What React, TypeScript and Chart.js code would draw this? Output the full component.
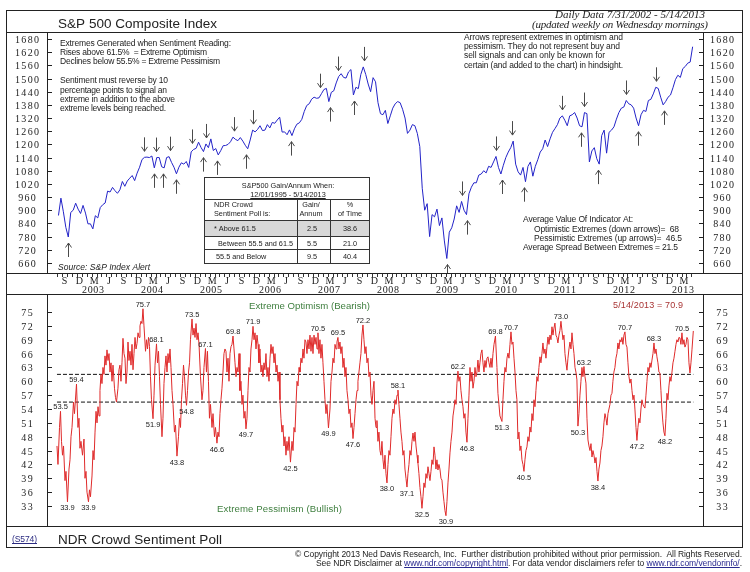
import React, { useEffect, useRef } from "react";
import { Chart, registerables } from "chart.js";

Chart.register(...registerables);

// ---------------------------------------------------------------------------
// S&P 500 Composite: two readings per month (first half, second half).
// 2002 starts in August, 2013 ends in mid May.
// ---------------------------------------------------------------------------
const spx2002 = [876, 955, 893, 822, 778, 890, 900, 932, 905, 885];
const spx2003 = [922, 887, 838, 838, 815, 875, 865, 912, 925, 933, 987, 983, 1004, 989, 977, 993, 1031, 1009, 1033, 1046, 1058, 1035, 1069, 1096];
const spx2004 = [1131, 1141, 1142, 1140, 1147, 1093, 1140, 1140, 1098, 1093, 1140, 1144, 1118, 1096, 1066, 1096, 1116, 1110, 1122, 1095, 1166, 1177, 1182, 1210];
const spx2005 = [1186, 1167, 1202, 1185, 1225, 1172, 1181, 1152, 1171, 1194, 1195, 1200, 1212, 1233, 1223, 1217, 1231, 1215, 1196, 1180, 1220, 1265, 1257, 1268];
const spx2006 = [1285, 1263, 1265, 1290, 1275, 1300, 1296, 1311, 1324, 1256, 1257, 1244, 1266, 1240, 1271, 1292, 1298, 1314, 1350, 1377, 1385, 1406, 1415, 1410];
const spx2007 = [1412, 1431, 1450, 1455, 1395, 1437, 1444, 1480, 1509, 1522, 1505, 1502, 1530, 1541, 1425, 1460, 1454, 1518, 1553, 1519, 1475, 1440, 1504, 1485];
const spx2008 = [1390, 1340, 1335, 1355, 1295, 1330, 1365, 1385, 1395, 1390, 1360, 1320, 1250, 1265, 1290, 1285, 1250, 1190, 1000, 900, 930, 780, 880, 870];
const spx2009 = [905, 830, 865, 760, 680, 800, 820, 860, 920, 890, 940, 900, 880, 975, 1005, 1025, 1025, 1060, 1065, 1080, 1070, 1100, 1095, 1120];
const spx2010 = [1145, 1095, 1065, 1105, 1140, 1165, 1185, 1215, 1110, 1075, 1060, 1095, 1030, 1100, 1120, 1055, 1100, 1130, 1165, 1180, 1220, 1190, 1225, 1255];
const spx2011 = [1272, 1290, 1320, 1330, 1310, 1285, 1330, 1335, 1345, 1320, 1285, 1280, 1345, 1340, 1120, 1170, 1185, 1135, 1110, 1240, 1265, 1160, 1255, 1265];
const spx2012 = [1280, 1315, 1345, 1365, 1370, 1400, 1385, 1380, 1365, 1320, 1285, 1335, 1355, 1350, 1400, 1405, 1430, 1460, 1455, 1415, 1380, 1395, 1415, 1425];
const spx2013 = [1458, 1495, 1515, 1505, 1545, 1555, 1570, 1575, 1645];

// ---------------------------------------------------------------------------
// NDR Crowd Sentiment Poll: [date as decimal year, reading]
// ---------------------------------------------------------------------------
const sent2002 = [
  [2002.579, 46], [2002.596, 42], [2002.622, 50], [2002.639, 53.5], [2002.656, 47], [2002.673, 44], [2002.69, 46],
  [2002.715, 38.5], [2002.732, 40.5], [2002.757, 33.9], [2002.783, 41], [2002.8, 43], [2002.817, 48], [2002.834, 50],
  [2002.859, 55.5], [2002.876, 53], [2002.91, 59.4], [2002.935, 50], [2002.952, 52], [2002.969, 45.5], [2002.986, 47],
];
const sent2003 = [
  [2003.012, 44], [2003.037, 47.5], [2003.054, 39], [2003.071, 40.5], [2003.088, 36], [2003.113, 33.9], [2003.13, 36.5],
  [2003.147, 35], [2003.173, 39.5], [2003.19, 45], [2003.207, 43], [2003.224, 49], [2003.241, 53.5], [2003.258, 51],
  [2003.275, 54.5], [2003.292, 52.5], [2003.308, 58], [2003.325, 61.5], [2003.342, 59.5], [2003.359, 63], [2003.376, 61.5],
  [2003.393, 65.5], [2003.41, 63.5], [2003.427, 66.8], [2003.444, 64.5], [2003.461, 66], [2003.478, 62], [2003.495, 64],
  [2003.512, 60], [2003.529, 63.5], [2003.554, 58.5], [2003.571, 56.5], [2003.588, 55.5], [2003.613, 58.5], [2003.63, 62.5],
  [2003.647, 63.5], [2003.664, 60], [2003.681, 64], [2003.698, 69.3], [2003.715, 66], [2003.732, 65], [2003.749, 59.5],
  [2003.766, 62], [2003.783, 68.5], [2003.8, 64.5], [2003.817, 66.5], [2003.834, 63.5], [2003.851, 68], [2003.868, 62.5],
  [2003.885, 66], [2003.902, 69.5], [2003.919, 67], [2003.936, 68.2], [2003.953, 70.5], [2003.97, 69.5], [2003.986, 72],
];
const sent2004 = [
  [2004.003, 73], [2004.02, 72.5], [2004.037, 75.7], [2004.054, 72], [2004.08, 66.5], [2004.097, 69], [2004.114, 67],
  [2004.131, 69.5], [2004.148, 67.5], [2004.164, 61], [2004.181, 56], [2004.207, 51.9], [2004.224, 57], [2004.241, 63.5],
  [2004.266, 68.1], [2004.283, 64], [2004.3, 66.5], [2004.317, 61], [2004.334, 55], [2004.359, 48], [2004.376, 52],
  [2004.393, 59.5], [2004.41, 63], [2004.427, 65.5], [2004.444, 62], [2004.461, 66], [2004.478, 64], [2004.495, 67],
  [2004.512, 63], [2004.529, 58], [2004.546, 55], [2004.571, 49], [2004.588, 50.5], [2004.613, 43.8], [2004.639, 48],
  [2004.656, 52], [2004.673, 50], [2004.69, 56], [2004.707, 59.5], [2004.724, 63.5], [2004.741, 61], [2004.758, 57],
  [2004.775, 54.8], [2004.792, 58], [2004.809, 62], [2004.826, 64], [2004.842, 69], [2004.868, 73.5], [2004.885, 70],
  [2004.902, 71.5], [2004.919, 69.5], [2004.936, 72.5], [2004.953, 69], [2004.97, 70.5], [2004.987, 68],
];
const sent2005 = [
  [2005.012, 61], [2005.037, 56], [2005.054, 58], [2005.071, 63], [2005.096, 67.1], [2005.113, 62], [2005.13, 66.5],
  [2005.147, 60], [2005.164, 52], [2005.181, 55], [2005.207, 50], [2005.224, 53], [2005.249, 48], [2005.266, 50],
  [2005.291, 46.6], [2005.308, 49], [2005.325, 48], [2005.342, 53], [2005.359, 56], [2005.376, 58.5], [2005.393, 62],
  [2005.41, 66], [2005.427, 67], [2005.444, 66.5], [2005.461, 62], [2005.478, 65], [2005.495, 60], [2005.512, 66],
  [2005.529, 67.5], [2005.546, 68], [2005.563, 69.8], [2005.58, 67], [2005.597, 64], [2005.614, 61], [2005.631, 63],
  [2005.648, 62], [2005.665, 66], [2005.681, 58], [2005.698, 60], [2005.715, 55], [2005.732, 57], [2005.749, 52],
  [2005.766, 53.5], [2005.783, 49.7], [2005.8, 52], [2005.817, 58], [2005.834, 63], [2005.851, 62], [2005.868, 67],
  [2005.885, 69], [2005.902, 71.9], [2005.919, 69], [2005.936, 70.5], [2005.953, 67], [2005.97, 70], [2005.987, 68],
];
const sent2006 = [
  [2006.003, 64], [2006.02, 67], [2006.037, 62], [2006.054, 63.5], [2006.071, 61], [2006.088, 64], [2006.105, 62.5],
  [2006.122, 66], [2006.139, 61], [2006.156, 63], [2006.173, 60], [2006.19, 65], [2006.207, 68], [2006.224, 66],
  [2006.241, 67.5], [2006.258, 64], [2006.275, 66], [2006.292, 62], [2006.309, 63.5], [2006.326, 60], [2006.343, 62],
  [2006.359, 56], [2006.376, 52], [2006.393, 49], [2006.41, 50.5], [2006.427, 46], [2006.444, 48], [2006.461, 44],
  [2006.478, 47], [2006.495, 45], [2006.512, 48], [2006.537, 42.5], [2006.563, 47], [2006.58, 45], [2006.597, 50],
  [2006.614, 49], [2006.631, 55], [2006.648, 60], [2006.665, 59], [2006.682, 63], [2006.698, 62], [2006.715, 65],
  [2006.732, 64], [2006.749, 67], [2006.766, 65], [2006.783, 69], [2006.8, 68.5], [2006.817, 66], [2006.834, 69],
  [2006.851, 67], [2006.868, 70], [2006.885, 66.5], [2006.902, 69.5], [2006.919, 66], [2006.936, 70], [2006.953, 68],
  [2006.97, 69.5], [2006.987, 67],
];
const sent2007 = [
  [2007.003, 70.5], [2007.02, 66], [2007.037, 69], [2007.054, 65], [2007.071, 68], [2007.088, 64], [2007.105, 60],
  [2007.122, 56], [2007.139, 53], [2007.156, 55], [2007.181, 49.9], [2007.207, 54], [2007.224, 60], [2007.241, 62],
  [2007.258, 65], [2007.275, 64], [2007.292, 68], [2007.309, 67], [2007.325, 68.5], [2007.342, 69.5], [2007.359, 67],
  [2007.376, 68.5], [2007.393, 66], [2007.41, 67.5], [2007.427, 63], [2007.444, 65], [2007.461, 61], [2007.478, 63],
  [2007.495, 58], [2007.512, 56], [2007.529, 53], [2007.546, 54], [2007.563, 50], [2007.58, 51], [2007.597, 47.6],
  [2007.614, 50], [2007.631, 53], [2007.648, 56], [2007.665, 58], [2007.681, 60], [2007.698, 62], [2007.715, 64],
  [2007.732, 66], [2007.749, 70], [2007.766, 72.2], [2007.783, 69], [2007.8, 66], [2007.817, 67.5], [2007.834, 64],
  [2007.851, 65], [2007.868, 61], [2007.885, 62], [2007.902, 57], [2007.919, 55], [2007.936, 58], [2007.953, 60],
  [2007.97, 52], [2007.987, 50],
];
const sent2008 = [
  [2008.003, 51.5], [2008.02, 47], [2008.037, 49], [2008.054, 45], [2008.071, 44], [2008.088, 47], [2008.105, 43],
  [2008.122, 41], [2008.139, 44], [2008.156, 40], [2008.173, 38.0], [2008.19, 42], [2008.207, 45], [2008.224, 44],
  [2008.241, 48], [2008.258, 52], [2008.275, 54], [2008.292, 53], [2008.309, 56], [2008.326, 55], [2008.343, 57],
  [2008.359, 58.1], [2008.376, 55], [2008.393, 52], [2008.41, 49], [2008.427, 47], [2008.444, 44], [2008.461, 45],
  [2008.478, 41], [2008.495, 39], [2008.512, 37.1], [2008.529, 40], [2008.546, 42], [2008.563, 45], [2008.58, 44],
  [2008.597, 47], [2008.614, 48.8], [2008.631, 47], [2008.648, 49], [2008.665, 46], [2008.682, 44], [2008.698, 42.3],
  [2008.715, 40], [2008.732, 37], [2008.749, 35], [2008.766, 32.5], [2008.783, 35], [2008.8, 38], [2008.817, 37],
  [2008.834, 40], [2008.851, 39], [2008.868, 41.5], [2008.885, 40], [2008.902, 38.5], [2008.919, 40.5], [2008.936, 43],
  [2008.953, 42], [2008.97, 45.8], [2008.987, 44],
];
const sent2009 = [
  [2009.003, 41], [2009.02, 43], [2009.037, 40.8], [2009.054, 42], [2009.071, 41], [2009.088, 39], [2009.105, 38.6],
  [2009.122, 36], [2009.139, 34], [2009.156, 32], [2009.173, 30.9], [2009.19, 34], [2009.207, 38], [2009.224, 41],
  [2009.241, 44.5], [2009.258, 47], [2009.275, 49], [2009.292, 52.5], [2009.309, 54], [2009.326, 56], [2009.343, 55],
  [2009.359, 59.6], [2009.376, 62.2], [2009.393, 60], [2009.41, 61], [2009.427, 58], [2009.444, 56], [2009.461, 54.5],
  [2009.478, 52], [2009.495, 53], [2009.512, 49], [2009.529, 46.8], [2009.546, 52], [2009.563, 57], [2009.58, 63],
  [2009.597, 60], [2009.614, 62], [2009.631, 58.5], [2009.648, 60], [2009.665, 63], [2009.682, 61], [2009.698, 62],
  [2009.715, 64.6], [2009.732, 62], [2009.749, 64], [2009.766, 66], [2009.783, 66.8], [2009.8, 64], [2009.817, 62],
  [2009.834, 64.5], [2009.851, 63], [2009.868, 65], [2009.885, 65.3], [2009.902, 64], [2009.919, 63], [2009.936, 65],
  [2009.953, 63], [2009.97, 66], [2009.987, 68],
];
const sent2010 = [
  [2010.012, 69.8], [2010.037, 63], [2010.054, 57.4], [2010.071, 55], [2010.088, 52.5], [2010.122, 51.3], [2010.139, 56],
  [2010.156, 60], [2010.173, 63], [2010.19, 62], [2010.207, 65], [2010.224, 66.1], [2010.241, 65], [2010.258, 68],
  [2010.275, 70.7], [2010.292, 68], [2010.309, 68.5], [2010.326, 65], [2010.343, 62], [2010.36, 58], [2010.376, 56],
  [2010.393, 47.5], [2010.41, 49], [2010.427, 45], [2010.444, 46], [2010.461, 43], [2010.478, 42], [2010.495, 40.5],
  [2010.512, 43], [2010.529, 45], [2010.546, 45.8], [2010.563, 48], [2010.58, 47], [2010.597, 50.1], [2010.614, 49],
  [2010.631, 53], [2010.648, 51.5], [2010.665, 56], [2010.682, 54.5], [2010.698, 58], [2010.715, 61], [2010.732, 60],
  [2010.749, 63], [2010.766, 65.3], [2010.783, 64], [2010.8, 66], [2010.817, 68.3], [2010.834, 66], [2010.851, 67],
  [2010.868, 65], [2010.885, 67.5], [2010.902, 69.6], [2010.919, 68], [2010.936, 70], [2010.953, 69], [2010.97, 71.8],
  [2010.987, 70],
];
const sent2011 = [
  [2011.003, 71.5], [2011.02, 72.6], [2011.037, 70], [2011.054, 69.5], [2011.071, 68.3], [2011.088, 70], [2011.105, 71],
  [2011.122, 73.0], [2011.139, 71], [2011.156, 69], [2011.173, 70], [2011.19, 66], [2011.207, 64], [2011.224, 62.4],
  [2011.241, 65], [2011.258, 67], [2011.275, 68.5], [2011.292, 67], [2011.309, 70.5], [2011.326, 68], [2011.343, 66],
  [2011.36, 63], [2011.376, 62], [2011.393, 60.3], [2011.41, 50.3], [2011.427, 53], [2011.444, 57], [2011.461, 60],
  [2011.478, 63], [2011.495, 61], [2011.512, 63.2], [2011.529, 61], [2011.546, 59.6], [2011.563, 52], [2011.58, 47.3],
  [2011.597, 46], [2011.614, 45], [2011.631, 46.5], [2011.648, 43.6], [2011.665, 45], [2011.682, 44], [2011.699, 42.3],
  [2011.716, 43.5], [2011.733, 40.5], [2011.749, 38.4], [2011.766, 41], [2011.783, 42.3], [2011.8, 45], [2011.817, 46],
  [2011.834, 48], [2011.851, 51], [2011.868, 53], [2011.885, 52], [2011.902, 50.5], [2011.919, 53], [2011.936, 54],
  [2011.953, 55], [2011.97, 57], [2011.987, 57.4],
];
const sent2012 = [
  [2012.003, 60], [2012.02, 62], [2012.037, 63], [2012.054, 65], [2012.071, 66], [2012.088, 68.3], [2012.105, 67],
  [2012.122, 69], [2012.139, 68.5], [2012.156, 69.5], [2012.173, 68], [2012.19, 70], [2012.207, 70.7], [2012.224, 68],
  [2012.241, 67.4], [2012.258, 64], [2012.275, 61], [2012.292, 59.6], [2012.309, 60.5], [2012.326, 58], [2012.343, 56],
  [2012.36, 57], [2012.377, 53.8], [2012.394, 50], [2012.41, 47.2], [2012.427, 50], [2012.444, 52], [2012.461, 51],
  [2012.478, 54], [2012.495, 56], [2012.512, 55], [2012.529, 54.5], [2012.546, 54.2], [2012.563, 57], [2012.58, 60],
  [2012.597, 63], [2012.614, 62], [2012.631, 64], [2012.648, 63], [2012.665, 64.6], [2012.682, 66], [2012.699, 68.3],
  [2012.716, 66], [2012.733, 67], [2012.749, 65.3], [2012.766, 64], [2012.783, 62], [2012.8, 61.8], [2012.817, 58],
  [2012.834, 53.8], [2012.851, 51], [2012.868, 49], [2012.885, 48.2], [2012.902, 52], [2012.919, 57.4], [2012.936, 56],
  [2012.953, 59], [2012.97, 61], [2012.987, 60],
];
const sent2013 = [
  [2013.004, 62], [2013.021, 64], [2013.038, 65], [2013.055, 66.5], [2013.072, 68], [2013.088, 69], [2013.105, 68.5],
  [2013.122, 69.5], [2013.139, 69.4], [2013.156, 68], [2013.173, 70.5], [2013.19, 68], [2013.207, 69], [2013.224, 67.4],
  [2013.241, 68], [2013.258, 69.5], [2013.275, 69], [2013.292, 64], [2013.309, 61.8], [2013.326, 64], [2013.343, 66.8],
  [2013.366, 70.9],
];

// Sentiment extremes (arrows on the index, value tags on the poll)
const DOWN_ARROW_DATES = [2004.054, 2004.257, 2004.495, 2004.868, 2005.105, 2005.58, 2005.902, 2007.037, 2007.342, 2007.783, 2009.444, 2010.02, 2010.291, 2011.139, 2011.512, 2012.224, 2012.732];
const UP_ARROW_DATES = [2002.766, 2004.224, 2004.376, 2004.597, 2005.054, 2005.291, 2005.783, 2006.546, 2007.207, 2007.613, 2009.19, 2009.529, 2010.122, 2010.495, 2011.461, 2011.749, 2012.427, 2012.868];
const PEAK_LABEL_DATES = [2002.639, 2002.91, 2004.037, 2004.266, 2004.868, 2005.096, 2005.563, 2005.902, 2007.003, 2007.342, 2007.766, 2008.359, 2009.376, 2010.012, 2010.275, 2011.122, 2011.512, 2012.207, 2012.699, 2013.173];
const TROUGH_LABEL_DATES = [2002.757, 2003.113, 2004.207, 2004.613, 2004.775, 2005.291, 2005.783, 2006.537, 2007.181, 2007.597, 2008.173, 2008.512, 2008.766, 2009.173, 2009.529, 2010.122, 2010.495, 2011.41, 2011.749, 2012.41, 2012.885];

// Axis ticks and threshold bands
const SPX_TICKS = [660, 720, 780, 840, 900, 960, 1020, 1080, 1140, 1200, 1260, 1320, 1380, 1440, 1500, 1560, 1620, 1680];
const SENT_TICKS = [33, 36, 39, 42, 45, 48, 51, 54, 57, 60, 63, 66, 69, 72, 75];
const SENT_BANDS = [61.5, 55.5];
const QUARTER_MONTHS = [2, 5, 8, 11];
const QUARTER_LETTERS = ["M", "J", "S", "D"];
const YEAR_LABELS = [2003, 2004, 2005, 2006, 2007, 2008, 2009, 2010, 2011, 2012, 2013];

// Summary table
const TABLE_ROWS = ["* Above 61.5", "Between 55.5 and 61.5", "55.5 and Below"];
const TABLE_GAIN = [2.5, 5.5, 9.5];
const TABLE_TIME = [38.6, 21.0, 40.4];

const LAST_DATE_TEXT = "5/14/2013";

// ---------------------------------------------------------------------------
const W = 750;
const H = 572;
const X_MIN = 2002.41;
const X_MAX = 2013.53;
const SANS = '"Liberation Sans", Arial, sans-serif';
const SERIF = '"Liberation Serif", "Times New Roman", serif';
const INK = "#222";

const SPX_SERIES = [spx2002, spx2003, spx2004, spx2005, spx2006, spx2007, spx2008, spx2009, spx2010, spx2011, spx2012, spx2013];
const spxPoints = SPX_SERIES.flatMap((vals, i) => {
  const year = 2002 + i;
  const offset = i === 0 ? 24 - vals.length : 0;
  return vals.map((v, k) => ({ x: year + (offset + k + 0.5) / 24, y: v }));
});
const sentPoints = [sent2002, sent2003, sent2004, sent2005, sent2006, sent2007, sent2008, sent2009, sent2010, sent2011, sent2012, sent2013]
  .flat()
  .map(([x, y]) => ({ x, y }));

function spxAt(t: number) {
  for (let i = 0; i < spxPoints.length - 1; i++) {
    const a = spxPoints[i], b = spxPoints[i + 1];
    if (t >= a.x && t <= b.x) return a.y + ((b.y - a.y) * (t - a.x)) / (b.x - a.x);
  }
  return t < spxPoints[0].x ? spxPoints[0].y : spxPoints[spxPoints.length - 1].y;
}
function spxExtreme(t: number, high: boolean) {
  let v = spxAt(t);
  for (const p of spxPoints) {
    if (Math.abs(p.x - t) <= 0.03) v = high ? Math.max(v, p.y) : Math.min(v, p.y);
  }
  return v;
}
function nearestSent(t: number) {
  let best = sentPoints[0];
  for (const p of sentPoints) if (Math.abs(p.x - t) < Math.abs(best.x - t)) best = p;
  return best;
}

function drawText(ctx: any, s: string, x: number, y: number, font: string, color: string, align = "left", width = 0, underline = false) {
  ctx.save();
  ctx.font = font;
  ctx.fillStyle = color;
  ctx.textAlign = "left";
  ctx.textBaseline = "alphabetic";
  const base = ctx.measureText(s).width;
  let sp = 0;
  if (width > 0 && s.length > 1) sp = Math.max(-1, Math.min(3, (width - base) / (s.length - 1)));
  const total = base + sp * (s.length - 1);
  let x0 = x;
  if (align === "center") x0 = x - total / 2;
  else if (align === "right") x0 = x - total;
  if (sp !== 0 && "letterSpacing" in ctx) {
    ctx.letterSpacing = sp + "px";
    ctx.fillText(s, x0, y);
    ctx.letterSpacing = "0px";
  } else if (sp !== 0) {
    ctx.translate(x0, y);
    ctx.scale(total / base, 1);
    ctx.fillText(s, 0, 0);
  } else {
    ctx.fillText(s, x0, y);
  }
  ctx.restore();
  if (underline) {
    ctx.save();
    ctx.strokeStyle = color;
    ctx.lineWidth = 1;
    ctx.beginPath();
    ctx.moveTo(x0, Math.round(y) + 1.5);
    ctx.lineTo(x0 + total, Math.round(y) + 1.5);
    ctx.stroke();
    ctx.restore();
  }
  return total;
}

function line(ctx: any, x1: number, y1: number, x2: number, y2: number) {
  ctx.beginPath();
  ctx.moveTo(x1, y1);
  ctx.lineTo(x2, y2);
  ctx.stroke();
}

function drawArrow(ctx: any, x: number, tipY: number, dir: number) {
  const px = Math.round(x) + 0.5;
  ctx.beginPath();
  ctx.moveTo(px, tipY - dir * 14);
  ctx.lineTo(px, tipY);
  ctx.moveTo(px - 3, tipY - dir * 4.5);
  ctx.lineTo(px, tipY);
  ctx.lineTo(px + 3, tipY - dir * 4.5);
  ctx.stroke();
}

function drawValueAxes(ctx: any, area: any, scale: any, ticks: number[]) {
  ctx.save();
  ctx.strokeStyle = INK;
  ctx.lineWidth = 1;
  line(ctx, area.left + 0.5, area.top, area.left + 0.5, area.bottom);
  line(ctx, area.right + 0.5, area.top, area.right + 0.5, area.bottom);
  for (const v of ticks) {
    const y = Math.round(scale.getPixelForValue(v)) + 0.5;
    line(ctx, area.left, y, area.left + 5, y);
    line(ctx, area.right - 4, y, area.right + 1, y);
    const label = String(v);
    const w = label.length * 5 + (label.length - 1) * 1.3;
    drawText(ctx, label, 27, y + 3.5, `10px ${SERIF}`, INK, "center", w);
    drawText(ctx, label, 722, y + 3.5, `10px ${SERIF}`, INK, "center", w);
  }
  ctx.restore();
}

function drawTable(ctx: any) {
  const L = 204, R = 369, T = 177, B = 263, C1 = 297, C2 = 330;
  const f = `7.3px ${SANS}`;
  ctx.save();
  ctx.fillStyle = "#fff";
  ctx.fillRect(L, T, R - L, B - T);
  ctx.fillStyle = "#d8d8d8";
  ctx.fillRect(L, 220, R - L, 16);
  ctx.strokeStyle = "#333";
  ctx.lineWidth = 1;
  ctx.strokeRect(L + 0.5, T + 0.5, R - L, B - T);
  line(ctx, L, 199.5, R, 199.5);
  line(ctx, L, 220.5, R, 220.5);
  line(ctx, L, 236.5, R, 236.5);
  line(ctx, L, 249.5, R, 249.5);
  line(ctx, C1 + 0.5, 199.5, C1 + 0.5, B + 0.5);
  line(ctx, C2 + 0.5, 199.5, C2 + 0.5, B + 0.5);
  drawText(ctx, "S&P500 Gain/Annum When:", 288, 188, f, INK, "center");
  drawText(ctx, "12/01/1995 - 5/14/2013", 288, 196.5, f, INK, "center", 0, true);
  drawText(ctx, "NDR Crowd", 214, 207, f, INK, "left");
  drawText(ctx, "Sentiment Poll is:", 214, 216, f, INK, "left");
  drawText(ctx, "Gain/", 311, 207, f, INK, "center");
  drawText(ctx, "Annum", 311, 216, f, INK, "center");
  drawText(ctx, "%", 350, 207, f, INK, "center");
  drawText(ctx, "of Time", 350, 216, f, INK, "center");
  const rowY = [231, 246, 259];
  const rowX = [214, 218, 216];
  TABLE_ROWS.forEach((r, i) => {
    drawText(ctx, r, rowX[i], rowY[i], f, INK, "left");
    drawText(ctx, TABLE_GAIN[i].toFixed(1), 312, rowY[i], f, INK, "center");
    drawText(ctx, TABLE_TIME[i].toFixed(1), 350, rowY[i], f, INK, "center");
  });
  ctx.restore();
}

const spxPanelPlugin = {
  id: "spxPanel",
  afterDatasetsDraw(chart: any) {
    const { ctx, chartArea: a, scales } = chart;
    const xs = scales.x, ys = scales.y;

    // extreme arrows on the index line
    ctx.save();
    ctx.beginPath();
    ctx.rect(a.left, a.top, a.right - a.left, a.bottom - a.top);
    ctx.clip();
    ctx.strokeStyle = "#4a4a4a";
    ctx.lineWidth = 1;
    DOWN_ARROW_DATES.forEach((t) => drawArrow(ctx, xs.getPixelForValue(t), ys.getPixelForValue(spxExtreme(t, true)) - 6, 1));
    UP_ARROW_DATES.forEach((t) => drawArrow(ctx, xs.getPixelForValue(t), ys.getPixelForValue(spxExtreme(t, false)) + 6, -1));
    ctx.restore();

    drawTable(ctx);
    drawValueAxes(ctx, a, ys, SPX_TICKS);

    const f = `8.5px ${SANS}`;
    drawText(ctx, "Extremes Generated when Sentiment Reading:", 60, 46, f, INK, "left", 171);
    drawText(ctx, "Rises above 61.5%  = Extreme Optimism", 60, 55, f, INK, "left", 147);
    drawText(ctx, "Declines below 55.5% = Extreme Pessimism", 60, 64, f, INK, "left", 160);
    drawText(ctx, "Sentiment must reverse by 10", 60, 83, f, INK, "left", 108);
    drawText(ctx, "percentage points to signal an", 60, 92.5, f, INK, "left", 107);
    drawText(ctx, "extreme in addition to the above", 60, 102, f, INK, "left", 115);
    drawText(ctx, "extreme levels being reached.", 60, 111, f, INK, "left", 106);

    drawText(ctx, "Arrows represent extremes in optimism and", 464, 40, f, INK, "left", 159);
    drawText(ctx, "pessimism. They do not represent buy and", 464, 49, f, INK, "left", 156);
    drawText(ctx, "sell signals and can only be known for", 464, 58.3, f, INK, "left", 141);
    drawText(ctx, "certain (and added to the chart) in hindsight.", 464, 67.7, f, INK, "left", 159);

    drawText(ctx, "Average Value Of Indicator At:", 523, 222, f, INK, "left", 110);
    drawText(ctx, "Optimistic Extremes (down arrows)=  68", 534, 232, f, INK, "left", 145);
    drawText(ctx, "Pessimistic Extremes (up arrows)=  46.5", 534, 241, f, INK, "left", 148);
    drawText(ctx, "Average Spread Between Extremes = 21.5", 523, 250, f, INK, "left", 155);

    drawText(ctx, "Source: S&P Index Alert", 58, 270, `italic 8.5px ${SANS}`, INK, "left", 92);

    // date row under the index panel
    const t0 = spxPoints[0].x - 0.03;
    const t1 = sentPoints[sentPoints.length - 1].x + 0.01;
    ctx.save();
    ctx.strokeStyle = "#333";
    ctx.lineWidth = 1;
    for (let year = 2002; year <= 2013; year++) {
      for (let m = 0; m < 12; m++) {
        const t = year + m / 12;
        if (t >= t0 && t <= t1) {
          const x = Math.round(xs.getPixelForValue(t)) + 0.5;
          line(ctx, x, 274, x, 277);
        }
      }
      QUARTER_MONTHS.forEach((m, i) => {
        const t = year + (m + 0.5) / 12;
        if (t >= t0 && t <= t1 + 0.02) drawText(ctx, QUARTER_LETTERS[i], xs.getPixelForValue(t), 283.5, `10px ${SERIF}`, INK, "center");
      });
    }
    ctx.restore();
    YEAR_LABELS.forEach((y) => drawText(ctx, String(y), xs.getPixelForValue(y + 0.19), 293, `10px ${SERIF}`, INK, "center", 22));
  },
  afterDraw(chart: any) {
    const { ctx } = chart;
    ctx.save();
    ctx.strokeStyle = INK;
    ctx.lineWidth = 1;
    ctx.strokeRect(6.5, 10.5, 736, 537);
    line(ctx, 7, 32.5, 743, 32.5);
    line(ctx, 7, 273.5, 743, 273.5);
    line(ctx, 7, 294.5, 743, 294.5);
    line(ctx, 7, 526.5, 743, 526.5);
    ctx.restore();

    drawText(ctx, "S&P 500 Composite Index", 58, 28, `13.5px ${SANS}`, INK, "left", 159);
    drawText(ctx, "Daily Data 7/31/2002 - 5/14/2013", 705, 18, `italic 11px ${SERIF}`, INK, "right", 150);
    drawText(ctx, "(updated weekly on Wednesday mornings)", 708, 27.5, `italic 11px ${SERIF}`, INK, "right", 176);

    drawText(ctx, "(S574)", 12, 542, `8.5px ${SANS}`, "#2a2a80", "left", 25, true);
    drawText(ctx, "NDR Crowd Sentiment Poll", 58, 544, `13.5px ${SANS}`, INK, "left", 164);

    const cf = `8.5px ${SANS}`;
    drawText(ctx, "\u00a9 Copyright 2013 Ned Davis Research, Inc.  Further distribution prohibited without prior permission.  All Rights Reserved.", 742, 557, cf, INK, "right", 447);

    // second line with two underlined links
    const segs = [
      { s: "See NDR Disclaimer at ", c: INK, u: false },
      { s: "www.ndr.com/copyright.html", c: "#2a2a90", u: true },
      { s: ". For data vendor disclaimers refer to ", c: INK, u: false },
      { s: "www.ndr.com/vendorinfo/", c: "#2a2a90", u: true },
      { s: ".", c: INK, u: false },
    ];
    ctx.save();
    ctx.font = cf;
    const widths = segs.map((g) => ctx.measureText(g.s).width);
    const nChars = segs.reduce((n, g) => n + g.s.length, 0);
    const baseW = widths.reduce((a2, b2) => a2 + b2, 0);
    const target = 426;
    const sp = (target - baseW) / (nChars - 1);
    ctx.restore();
    let cx = 742 - target;
    segs.forEach((g, i) => {
      const w = widths[i] + sp * g.s.length;
      drawText(ctx, g.s, cx, 566, cf, g.c, "left", g.s.length > 1 ? widths[i] + sp * (g.s.length - 1) : 0, g.u);
      cx += w;
    });
  },
};

const sentPanelPlugin = {
  id: "sentPanel",
  afterDatasetsDraw(chart: any) {
    const { ctx, chartArea: a, scales } = chart;
    const xs = scales.x, ys = scales.y;
    drawValueAxes(ctx, a, ys, SENT_TICKS);

    const lf = `7.5px ${SANS}`;
    PEAK_LABEL_DATES.forEach((t) => {
      const p = nearestSent(t);
      drawText(ctx, p.y.toFixed(1), xs.getPixelForValue(p.x), ys.getPixelForValue(p.y) - 2, lf, INK, "center");
    });
    TROUGH_LABEL_DATES.forEach((t) => {
      const p = nearestSent(t);
      drawText(ctx, p.y.toFixed(1), xs.getPixelForValue(p.x), ys.getPixelForValue(p.y) + 8.5, lf, INK, "center");
    });

    const green = "#3f7f3f";
    drawText(ctx, "Extreme Optimism (Bearish)", 249, 308.5, `9.6px ${SANS}`, green, "left", 121);
    drawText(ctx, "Extreme Pessimism (Bullish)", 217, 511.5, `9.6px ${SANS}`, green, "left", 125);
    const last = sentPoints[sentPoints.length - 1];
    drawText(ctx, `${LAST_DATE_TEXT} = ${last.y.toFixed(1)}`, 613, 307.5, `9px ${SANS}`, "#a83434", "left", 70);
  },
};

function yAxis(position: string, min: number, max: number, width: number) {
  return {
    position,
    min,
    max,
    ticks: { display: false },
    grid: { display: false, drawTicks: false, tickLength: 0 },
    border: { display: false },
    afterFit: (s: any) => {
      s.width = width;
    },
  };
}

export default function App() {
  const topRef = useRef<HTMLCanvasElement>(null);
  const botRef = useRef<HTMLCanvasElement>(null);

  useEffect(() => {
    const common = {
      responsive: false,
      animation: false,
      devicePixelRatio: 1,
      events: [],
      plugins: { legend: { display: false }, tooltip: { enabled: false } },
    };

    const top = new Chart(topRef.current as HTMLCanvasElement, {
      type: "line",
      data: {
        datasets: [
          {
            data: spxPoints,
            borderColor: "#2323c8",
            borderWidth: 1,
            pointRadius: 0,
            tension: 0,
            fill: false,
          },
        ],
      },
      options: {
        ...common,
        layout: { padding: { top: 32, bottom: H - 273, left: 0, right: 0 } },
        scales: {
          x: { type: "linear", min: X_MIN, max: X_MAX, display: false },
          y: yAxis("left", 614, 1712, 47),
          y1: yAxis("right", 614, 1712, W - 703),
        },
      },
      plugins: [spxPanelPlugin],
    } as any);

    const first = sentPoints[0].x;
    const lastX = sentPoints[sentPoints.length - 1].x;
    const bot = new Chart(botRef.current as HTMLCanvasElement, {
      type: "line",
      data: {
        datasets: [
          {
            data: sentPoints,
            borderColor: "#df2a2a",
            borderWidth: 1,
            pointRadius: 0,
            tension: 0,
            fill: false,
          },
          ...SENT_BANDS.map((v) => ({
            data: [
              { x: first, y: v },
              { x: lastX, y: v },
            ],
            borderColor: "#111",
            borderWidth: 1,
            borderDash: [4, 2],
            pointRadius: 0,
            fill: false,
          })),
        ],
      },
      options: {
        ...common,
        layout: { padding: { top: 294, bottom: H - 526, left: 0, right: 0 } },
        scales: {
          x: { type: "linear", min: X_MIN, max: X_MAX, display: false },
          y: yAxis("left", 28.67, 78.9, 47),
          y1: yAxis("right", 28.67, 78.9, W - 703),
        },
      },
      plugins: [sentPanelPlugin],
    } as any);

    return () => {
      top.destroy();
      bot.destroy();
    };
  }, []);

  return (
    <div style={{ position: "fixed", left: 0, top: 0, width: W, height: H, background: "#fff", overflow: "hidden" }}>
      <canvas ref={topRef} width={W} height={H} style={{ position: "absolute", left: 0, top: 0 }} />
      <canvas ref={botRef} width={W} height={H} style={{ position: "absolute", left: 0, top: 0 }} />
    </div>
  );
}
